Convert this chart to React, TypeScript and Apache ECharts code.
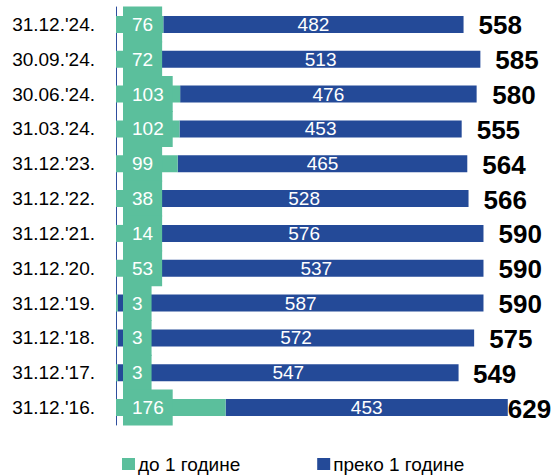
import React, { useEffect, useRef } from "react";
import * as echarts from "echarts";

const categories = [
  "31.12.'24.", "30.09.'24.", "30.06.'24.", "31.03.'24.", "31.12.'23.", "31.12.'22.",
  "31.12.'21.", "31.12.'20.", "31.12.'19.", "31.12.'18.", "31.12.'17.", "31.12.'16.",
];
const under1Year = [76, 72, 103, 102, 99, 38, 14, 53, 3, 3, 3, 176];
const over1Year = [482, 513, 476, 453, 465, 528, 576, 537, 587, 572, 547, 453];
const totals = [558, 585, 580, 555, 564, 566, 590, 590, 590, 575, 549, 629];
const seriesNames = ["до 1 године", "преко 1 године"];

const GREEN = "#5BBF9C";
const BLUE = "#244A98";
const FONT = "'Liberation Sans', Arial, sans-serif";

export default function App() {
  const ref = useRef<HTMLDivElement>(null);
  useEffect(() => {
    document.body.style.margin = "0";
    const chart = echarts.init(ref.current!, undefined, { renderer: "svg" });
    const lastIdx = totals.length - 1;
    chart.setOption({
      animation: false,
      textStyle: { fontFamily: FONT },
      grid: { left: 116, right: 1, top: 7, bottom: 50, containLabel: false, outerBoundsMode: "none" },
      xAxis: { type: "value", min: 0, max: 700, show: false },
      yAxis: {
        type: "category",
        data: categories,
        inverse: true,
        axisLine: { show: true, lineStyle: { color: "#2E4E9E", width: 1 } },
        axisTick: { show: false },
        axisLabel: { color: "#000", fontSize: 19, fontFamily: FONT, margin: 21 },
      },
      legend: {
        data: seriesNames,
        left: 122,
        top: 454,
        padding: 0,
        itemWidth: 13,
        itemHeight: 12,
        itemGap: 77,
        icon: "rect",
        textStyle: { color: "#000", fontSize: 19, fontFamily: FONT, lineHeight: 20, padding: [0, 0, 0, -2] },
      },
      series: [
        {
          name: seriesNames[0],
          type: "bar",
          stack: "a",
          z: 3,
          barWidth: 17,
          data: under1Year,
          itemStyle: { color: GREEN },
          label: {
            show: true,
            position: "insideLeft",
            distance: 7,
            color: "#fff",
            fontSize: 19,
            fontFamily: FONT,
            backgroundColor: GREEN,
            padding: [7, 9],
            lineHeight: 22,
          },
        },
        {
          name: seriesNames[1],
          type: "bar",
          stack: "a",
          barWidth: 17,
          data: over1Year,
          itemStyle: { color: BLUE },
          label: {
            show: true,
            position: "inside",
            color: "#fff",
            fontSize: 19,
            fontFamily: FONT,
          },
        },
        {
          name: "total",
          type: "bar",
          barWidth: 17,
          barGap: "-100%",
          silent: true,
          z: 1,
          itemStyle: { color: "rgba(0,0,0,0)" },
          data: totals.map((v, i) =>
            i === lastIdx ? { value: v, label: { distance: 0 } } : v
          ),
          label: {
            show: true,
            position: "right",
            distance: 15,
            color: "#000",
            fontSize: 26,
            fontWeight: "bold",
            fontFamily: FONT,
            offset: [0, 1],
          },
        },
      ],
    });
    return () => chart.dispose();
  }, []);
  return <div ref={ref} style={{ width: 553, height: 475 }} />;
}
